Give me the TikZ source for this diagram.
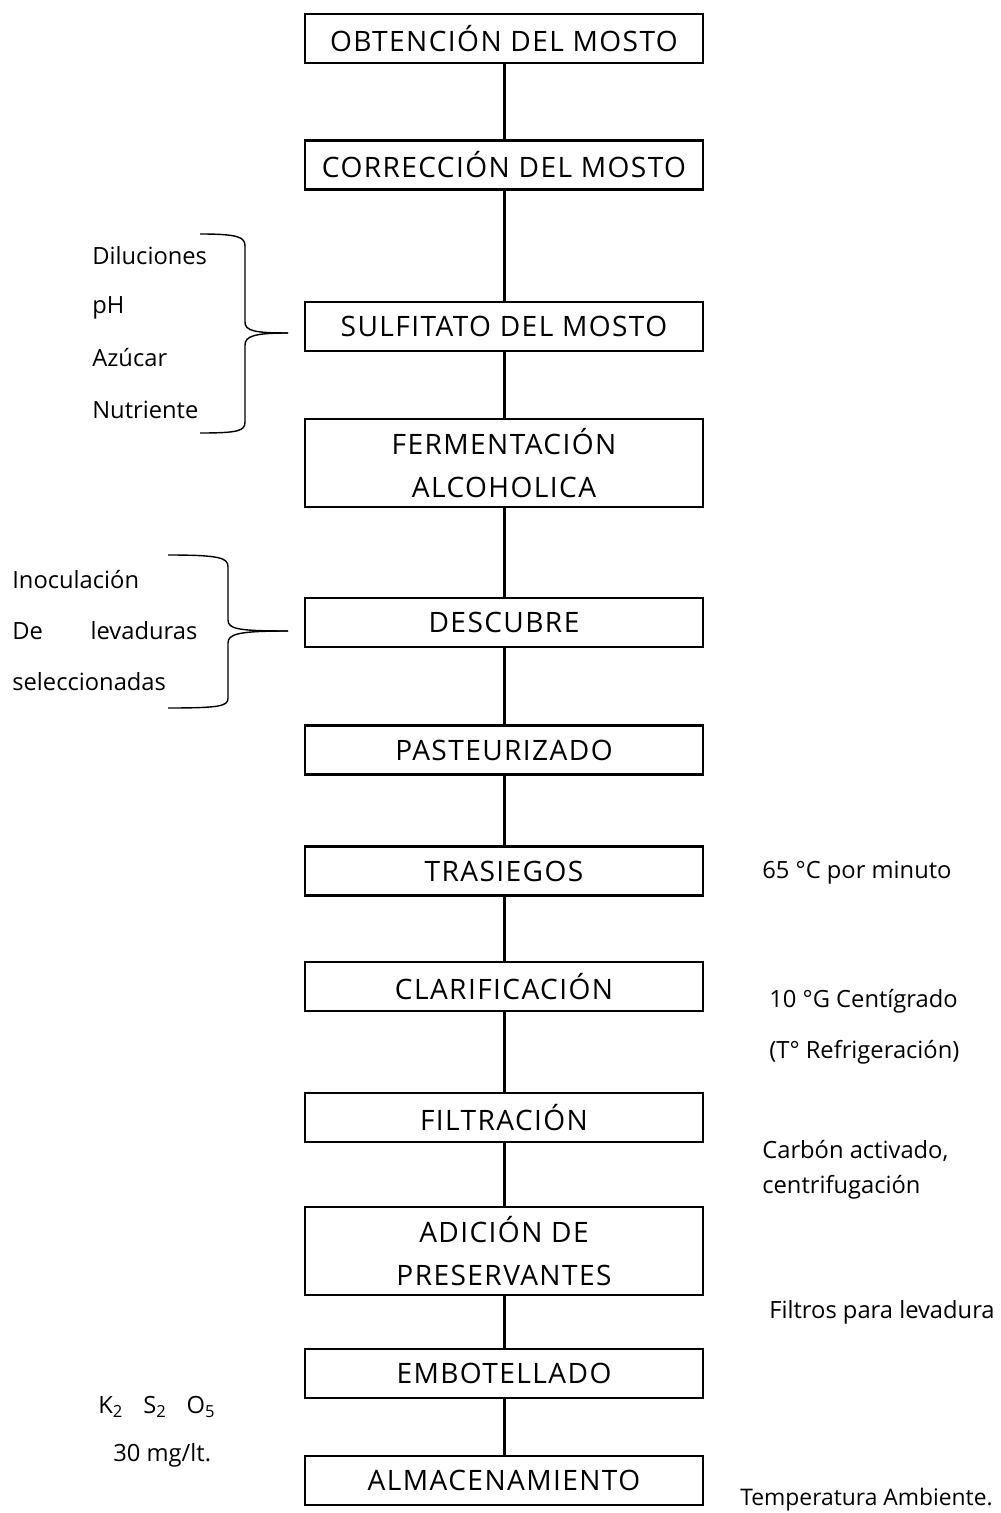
\documentclass[tikz,border=0pt]{standalone}
\usepackage{fontspec}
\setmainfont{Open Sans}
\begin{document}
\begin{tikzpicture}[x=0.02cm, y=-0.02cm,
  paso/.style={draw, line width=1.2pt, minimum width=7.96cm, minimum height=0.98cm,
    align=center, inner sep=0pt,
    font=\fontsize{16}{24}\selectfont\addfontfeature{LetterSpace=5}},
  alto/.style={minimum height=1.76cm},
  nota/.style={anchor=west, inner sep=0pt, font=\fontsize{13.5}{16}\selectfont},
  enlace/.style={line width=1.7pt},
  llave/.style={line width=0.8pt}]

  \useasboundingbox (0,0) rectangle (1000,1513);

  % Draw the process boxes
  \node[paso] (obt) at (504,38.5) {OBTENCIÓN DEL MOSTO};
  \node[paso] (cor) at (504,165) {CORRECCIÓN DEL MOSTO};
  \node[paso] (sul) at (504,326.5) {SULFITATO DEL MOSTO};
  \node[paso, alto] (fer) at (504,463) {FERMENTACIÓN\\ALCOHOLICA};
  \node[paso] (des) at (504,622.5) {DESCUBRE};
  \node[paso] (pas) at (504,750) {PASTEURIZADO};
  \node[paso] (tra) at (504,871) {TRASIEGOS};
  \node[paso] (cla) at (504,986.5) {CLARIFICACIÓN};
  \node[paso] (fil) at (504,1117.5) {FILTRACIÓN};
  \node[paso, alto] (adi) at (504,1251) {ADICIÓN DE\\PRESERVANTES};
  \node[paso] (emb) at (504,1373.5) {EMBOTELLADO};
  \node[paso] (alm) at (504,1480.5) {ALMACENAMIENTO};

  % Draw the lines between the boxes
  \foreach \a/\b in {obt/cor, cor/sul, sul/fer, fer/des, des/pas, pas/tra,
                     tra/cla, cla/fil, fil/adi, adi/emb, emb/alm}
    \draw[enlace] (\a.south) -- (\b.north);

  % Draw the left notes
  \node[nota] (dil) at (92,256) {Diluciones};
  \node[nota] (ph) at (92,308) {pH};
  \node[nota] (azu) at (92,358) {Azúcar};
  \node[nota] (nut) at (92,410) {Nutriente};
  \node[nota] (ino) at (12,580) {Inoculación};
  \node[nota] (lev) at (12,631) {\makebox[3.7cm][s]{De\hfill levaduras}};
  \node[nota] (sel) at (12,682) {seleccionadas};
  \node[nota] (kso) at (98,1407) {K\textsubscript{2}\hspace{0.4cm}S\textsubscript{2}\hspace{0.4cm}O\textsubscript{5}};
  \node[nota] (mg) at (113,1455) {30 mg/lt.};

  % Draw the braces
  \draw[llave] (200,234) .. controls (238,234) and (245,237) .. (245,246)
    -- (245,322) .. controls (245,331) and (255,333) .. (288,333);
  \draw[llave] (288,333) .. controls (255,333) and (245,336) .. (245,345)
    -- (245,422) .. controls (245,431) and (238,433) .. (200,433);
  \draw[llave] (168,555) .. controls (221,555) and (228,558) .. (228,567)
    -- (228,620) .. controls (228,629) and (238,631) .. (288,631);
  \draw[llave] (288,631) .. controls (238,631) and (228,634) .. (228,643)
    -- (228,698) .. controls (228,706) and (221,708) .. (168,708);

  % Draw the right notes
  \node[nota] (tem) at (762,873) {65 °C por minuto};
  \node[nota] (cen) at (769,1001) {10 °G Centígrado};
  \node[nota] (ref) at (769,1052) {(T° Refrigeración)};
  \node[nota] (car) at (762,1151) {Carbón activado,};
  \node[nota] (cfg) at (762,1187) {centrifugación};
  \node[nota] (flt) at (769,1312) {Filtros para levadura};
  \node[nota, font=\fontsize{13}{16}\selectfont] (amb) at (740,1500) {Temperatura Ambiente.};

\end{tikzpicture}
\end{document}
